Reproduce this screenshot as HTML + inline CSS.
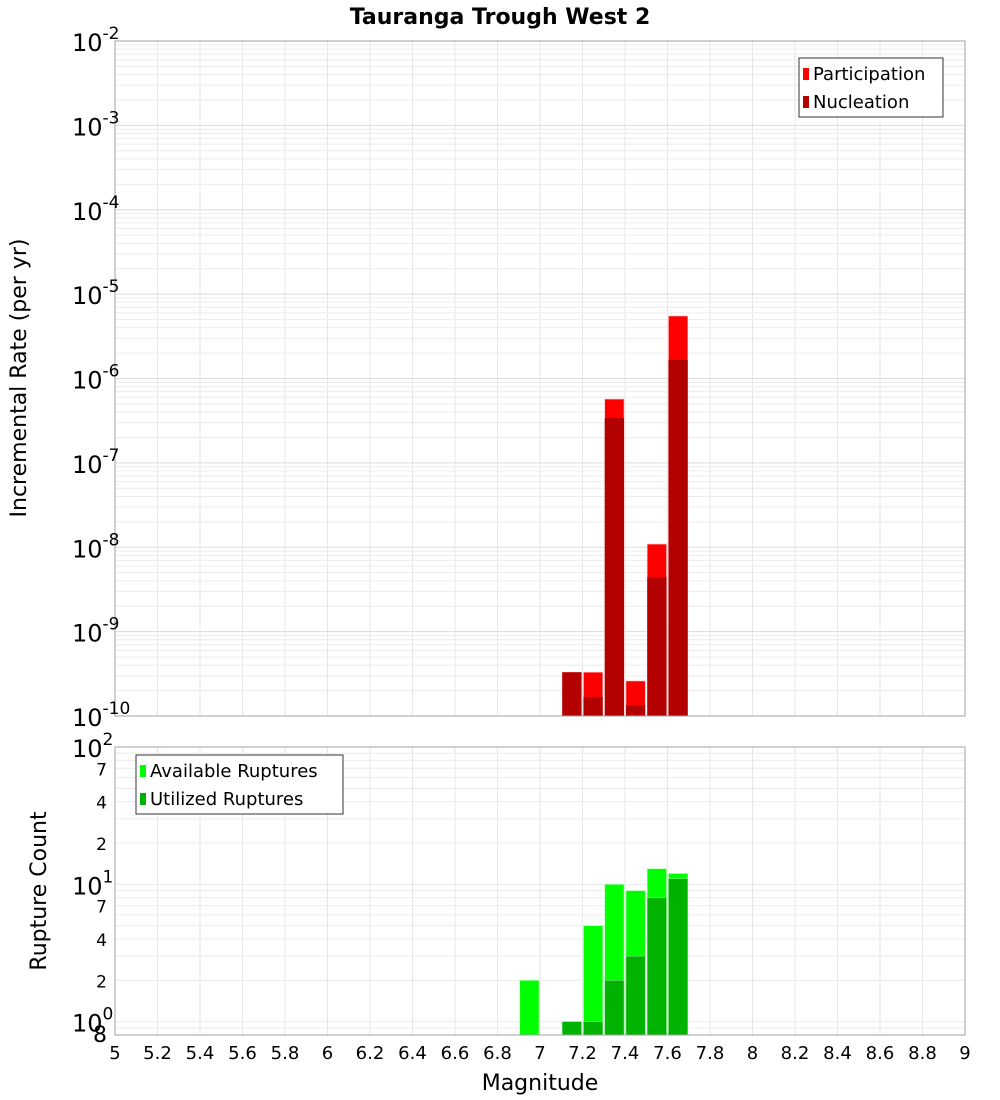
<!DOCTYPE html>
<html><head><meta charset="utf-8"><style>
html,body{margin:0;padding:0;background:#fff;}
svg{display:block;font-family:"DejaVu Sans","Liberation Sans",sans-serif;}
</style></head><body>
<svg id="chart" width="1000" height="1100" viewBox="0 0 1000 1100">
<text x="500" y="24" text-anchor="middle" font-size="22" font-weight="bold">Tauranga Trough West 2</text>
<g id="topg"></g><g id="botg"></g>
<text transform="translate(26,378) rotate(-90)" text-anchor="middle" font-size="22">Incremental Rate (per yr)</text>
<text transform="translate(46,891) rotate(-90)" text-anchor="middle" font-size="22">Rupture Count</text>
<text x="540" y="1090" text-anchor="middle" font-size="22">Magnitude</text>
</svg>
<script>
const mags = [7.15, 7.25, 7.35, 7.45, 7.55, 7.65];
const participation = [3.3e-10, 3.3e-10, 5.7e-7, 2.6e-10, 1.09e-8, 5.5e-6];
const nucleation = [3.3e-10, 1.68e-10, 3.4e-7, 1.35e-10, 4.4e-9, 1.66e-6];
const countMags = [6.95, 7.15, 7.25, 7.35, 7.45, 7.55, 7.65];
const available = [2, 0, 5, 10, 9, 13, 12];
const utilized = [0, 1, 1, 2, 3, 8, 11];
const xTicks = ["5","5.2","5.4","5.6","5.8","6","6.2","6.4","6.6","6.8","7","7.2","7.4","7.6","7.8","8","8.2","8.4","8.6","8.8","9"];

const NS = "http://www.w3.org/2000/svg";
const X0 = 115, X1 = 965;
const x = m => X0 + (m - 5) / 4 * (X1 - X0);
const T0 = 41, T1 = 716;
const yTop = v => T0 + (-2 - Math.log10(v)) / 8 * (T1 - T0);
const B0 = 747, B1 = 1035;
const yBot = v => B0 + (2 - Math.log10(v)) / (2 - Math.log10(0.8)) * (B1 - B0);

function el(tag, attrs, parent, text) {
  const e = document.createElementNS(NS, tag);
  for (const k in attrs) e.setAttribute(k, attrs[k]);
  if (text !== undefined) e.textContent = text;
  parent.appendChild(e);
  return e;
}
const topG = document.getElementById("topg");
const botG = document.getElementById("botg");

function vgrid(g, y0, y1) {
  xTicks.forEach(t => {
    const l = el("line", {x1: x(+t), x2: x(+t), y1: y0, y2: y1, stroke: "#e6e6e6"}, g);
    
    
  });
}
vgrid(topG, T0, T1); vgrid(botG, B0, B1);
for (let d = -10; d < -2; d++) for (let k = 1; k <= 9; k++) {
  const yy = yTop(k * Math.pow(10, d));
  const l = el("line", {x1: X0, x2: X1, y1: yy, y2: yy, stroke: k == 1 ? "#dcdcdc" : "#ececec"}, topG);
  
  
}
[0.8,0.9,1,2,3,4,5,6,7,8,9,10,20,30,40,50,60,70,80,90].forEach(v => {
  const yy = yBot(v);
  const l = el("line", {x1: X0, x2: X1, y1: yy, y2: yy, stroke: "#ececec"}, botG);
  
  
});

const bw = x(5.1) - x(5) - 2;
mags.forEach((m, i) => {
  const xl = x(m) - bw / 2;
  let r = el("rect", {x: xl, y: yTop(participation[i]), width: bw, height: T1 - yTop(participation[i]), fill: "#ff0000", stroke: "#ffb0b0", "stroke-width": 0.6}, topG);
  
  
  r = el("rect", {x: xl, y: yTop(nucleation[i]), width: bw, height: T1 - yTop(nucleation[i]), fill: "#b30000"}, topG);
  
  
});
countMags.forEach((m, i) => {
  const xl = x(m) - bw / 2;
  if (available[i] > 0) {
    const r = el("rect", {x: xl, y: yBot(available[i]), width: bw, height: B1 - yBot(available[i]), fill: "#00ff00", stroke: "#b0ffb0", "stroke-width": 0.6}, botG);
    
    
  }
  if (utilized[i] > 0) {
    const r = el("rect", {x: xl, y: yBot(utilized[i]), width: bw, height: B1 - yBot(utilized[i]), fill: "#00b300", stroke: "#80e080", "stroke-width": 0.6}, botG);
    
    
  }
});

let f = el("rect", {x: X0, y: T0, width: X1 - X0, height: T1 - T0, fill: "none", stroke: "#a0a0a0"}, topG);


f = el("rect", {x: X0, y: B0, width: X1 - X0, height: B1 - B0, fill: "none", stroke: "#a0a0a0"}, botG);



for (let d = -10; d <= -2; d++) {
  const yy = yTop(Math.pow(10, d));
  const t = el("text", {x: 72, y: yy + 10, "font-size": 24}, topG);
  
  
  el("tspan", {}, t, "10");
  el("tspan", {dy: -12, "font-size": 17}, t, String(d));
}
[[1,"0"],[10,"1"],[100,"2"]].forEach(([v, e]) => {
  const yy = yBot(v);
  const t = el("text", {x: 72, y: yy + 10, "font-size": 24}, botG);
  
  
  el("tspan", {}, t, "10");
  el("tspan", {dy: -12, "font-size": 17}, t, e);
});
[2,4,7,20,40,70,0.8].forEach(v => {
  const t = el("text", {x: 107, y: yBot(v) + 7, "font-size": v == 0.8 ? 22 : 17, "text-anchor": "end"}, botG, v == 0.8 ? "8" : String(v % 10 == 0 ? v / 10 : v));
  
  
});
xTicks.forEach(s => {
  const t = el("text", {x: x(+s), y: 1059, "font-size": 18, "text-anchor": "middle"}, botG, s);
  
  
});

function legend(g, lx, ly, w, items, name) {
  const grp = el("g", {}, g);
  
  
  el("rect", {x: lx, y: ly, width: w, height: 59, fill: "#fff", stroke: "#333"}, grp);
  items.forEach(([c, label], i) => {
    const sw = el("rect", {x: lx + 4, y: ly + 10 + i * 28, width: 6, height: 12, fill: c}, grp);
    
    
    const t = el("text", {x: lx + 14, y: ly + 22 + i * 28, "font-size": 18}, grp, label);
    
    
  });
}
legend(topG, 799, 58, 144, [["#ff0000","Participation"],["#b30000","Nucleation"]], "rate-legend");
legend(botG, 136, 755, 207, [["#00ff00","Available Ruptures"],["#00b300","Utilized Ruptures"]], "count-legend");
</script>
</body></html>
